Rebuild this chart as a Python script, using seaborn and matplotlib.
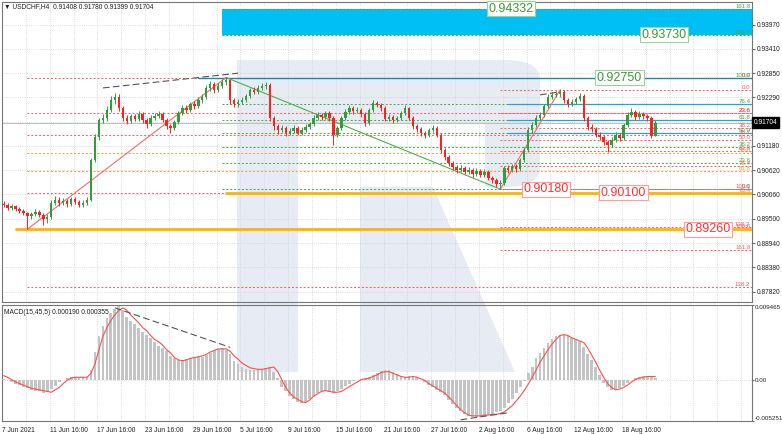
import matplotlib
matplotlib.use("Agg")
import matplotlib.pyplot as plt
import matplotlib.patches as mpatches
import matplotlib.transforms as mtransforms
import numpy as np
import pandas as pd
import seaborn as sns

# ---------------- data ----------------
symbol_info = "USDCHF,H4  0.91408 0.91780 0.91399 0.91704"
macd_info = "MACD(15,45,5) 0.000190 0.000355"
last_price = 0.91704

# 8-hour candles, 7 Jun - 20 Aug 2021
first_open = 0.8985
closes = [
    0.8982, 0.8975, 0.8979, 0.8972, 0.8968, 0.8963, 0.8956, 0.8961, 0.8966, 0.8959,
    0.8949, 0.8954, 0.8986, 0.8993, 0.8986, 0.8991, 0.8984, 0.8995, 0.8989, 0.8982,
    0.8986, 0.8993, 0.9085, 0.9138, 0.9177, 0.9182, 0.9200, 0.9223, 0.9230, 0.9205,
    0.9182, 0.9175, 0.9186, 0.9180, 0.9191, 0.9177, 0.9168, 0.9182, 0.9186, 0.9191,
    0.9177, 0.9163, 0.9159, 0.9173, 0.9193, 0.9205, 0.9200, 0.9214, 0.9209, 0.9223,
    0.9230, 0.9251, 0.9260, 0.9246, 0.9255, 0.9265, 0.9269, 0.9223, 0.9214, 0.9219,
    0.9223, 0.9232, 0.9246, 0.9242, 0.9251, 0.9255, 0.9258, 0.9182, 0.9163, 0.9154,
    0.9159, 0.9147, 0.9152, 0.9159, 0.9147, 0.9154, 0.9161, 0.9168, 0.9182, 0.9189,
    0.9184, 0.9193, 0.9182, 0.9143, 0.9159, 0.9182, 0.9196, 0.9205, 0.9198, 0.9200,
    0.9191, 0.9170, 0.9200, 0.9216, 0.9212, 0.9205, 0.9180, 0.9184, 0.9177, 0.9182,
    0.9193, 0.9205, 0.9182, 0.9163, 0.9157, 0.9147, 0.9143, 0.9154, 0.9159, 0.9143,
    0.9108, 0.9092, 0.9078, 0.9069, 0.9062, 0.9067, 0.9058, 0.9062, 0.9053, 0.9060,
    0.9051, 0.9058, 0.9044, 0.9039, 0.9030, 0.9032, 0.9067, 0.9062, 0.9071, 0.9064,
    0.9085, 0.9108, 0.9154, 0.9166, 0.9182, 0.9189, 0.9209, 0.9230, 0.9235, 0.9237,
    0.9242, 0.9223, 0.9214, 0.9219, 0.9226, 0.9232, 0.9182, 0.9161, 0.9157, 0.9143,
    0.9138, 0.9126, 0.9120, 0.9131, 0.9143, 0.9136, 0.9166, 0.9189, 0.9196, 0.9184,
    0.9191, 0.9186, 0.9182, 0.9141, 0.9170,
]
highs = [
    0.8990, 0.8986, 0.8984, 0.8982, 0.8976, 0.8972, 0.8966, 0.8966, 0.8972, 0.8969,
    0.8962, 0.8960, 0.8992, 0.9003, 0.8999, 0.8998, 0.8996, 0.9000, 0.8999, 0.8993,
    0.8992, 0.9000, 0.9090, 0.9145, 0.9182, 0.9190, 0.9210, 0.9232, 0.9240, 0.9236,
    0.9210, 0.9188, 0.9192, 0.9192, 0.9197, 0.9195, 0.9182, 0.9188, 0.9193, 0.9198,
    0.9195, 0.9181, 0.9168, 0.9178, 0.9198, 0.9211, 0.9212, 0.9219, 0.9220, 0.9229,
    0.9236, 0.9257, 0.9266, 0.9264, 0.9262, 0.9271, 0.9276, 0.9272, 0.9228, 0.9225,
    0.9229, 0.9238, 0.9252, 0.9253, 0.9257, 0.9262, 0.9265, 0.9262, 0.9187, 0.9168,
    0.9166, 0.9163, 0.9158, 0.9165, 0.9163, 0.9160, 0.9168, 0.9173, 0.9188, 0.9195,
    0.9194, 0.9199, 0.9197, 0.9186, 0.9164, 0.9187, 0.9202, 0.9212, 0.9210, 0.9207,
    0.9204, 0.9195, 0.9205, 0.9224, 0.9222, 0.9217, 0.9209, 0.9190, 0.9188, 0.9187,
    0.9198, 0.9211, 0.9208, 0.9186, 0.9168, 0.9161, 0.9152, 0.9159, 0.9165, 0.9163,
    0.9147, 0.9112, 0.9097, 0.9082, 0.9074, 0.9073, 0.9071, 0.9068, 0.9066, 0.9066,
    0.9064, 0.9064, 0.9062, 0.9049, 0.9043, 0.9040, 0.9072, 0.9073, 0.9077, 0.9076,
    0.9090, 0.9114, 0.9160, 0.9172, 0.9188, 0.9196, 0.9215, 0.9236, 0.9242, 0.9244,
    0.9249, 0.9246, 0.9228, 0.9225, 0.9231, 0.9240, 0.9236, 0.9187, 0.9167, 0.9161,
    0.9149, 0.9142, 0.9131, 0.9137, 0.9149, 0.9148, 0.9171, 0.9195, 0.9204, 0.9200,
    0.9197, 0.9196, 0.9192, 0.9186, 0.9178,
]
lows = [
    0.8976, 0.8970, 0.8971, 0.8967, 0.8963, 0.8958, 0.8926, 0.8950, 0.8957, 0.8953,
    0.8935, 0.8940, 0.8950, 0.8981, 0.8980, 0.8982, 0.8978, 0.8980, 0.8983, 0.8976,
    0.8977, 0.8982, 0.8990, 0.9080, 0.9132, 0.9170, 0.9176, 0.9195, 0.9215, 0.9198,
    0.9176, 0.9168, 0.9170, 0.9174, 0.9175, 0.9171, 0.9158, 0.9163, 0.9177, 0.9181,
    0.9172, 0.9156, 0.9147, 0.9154, 0.9168, 0.9188, 0.9194, 0.9195, 0.9203, 0.9204,
    0.9217, 0.9225, 0.9245, 0.9240, 0.9241, 0.9250, 0.9258, 0.9215, 0.9207, 0.9208,
    0.9213, 0.9218, 0.9227, 0.9236, 0.9237, 0.9246, 0.9249, 0.9176, 0.9155, 0.9146,
    0.9149, 0.9141, 0.9142, 0.9147, 0.9142, 0.9143, 0.9149, 0.9156, 0.9164, 0.9177,
    0.9178, 0.9179, 0.9176, 0.9120, 0.9138, 0.9154, 0.9177, 0.9190, 0.9192, 0.9193,
    0.9185, 0.9163, 0.9166, 0.9195, 0.9206, 0.9199, 0.9174, 0.9175, 0.9171, 0.9172,
    0.9178, 0.9189, 0.9177, 0.9157, 0.9150, 0.9140, 0.9136, 0.9139, 0.9149, 0.9137,
    0.9101, 0.9086, 0.9072, 0.9063, 0.9056, 0.9057, 0.9052, 0.9053, 0.9047, 0.9049,
    0.9045, 0.9047, 0.9038, 0.9033, 0.9024, 0.9018, 0.9028, 0.9056, 0.9057, 0.9058,
    0.9060, 0.9080, 0.9103, 0.9148, 0.9161, 0.9177, 0.9184, 0.9204, 0.9225, 0.9229,
    0.9231, 0.9217, 0.9208, 0.9209, 0.9214, 0.9221, 0.9176, 0.9155, 0.9150, 0.9137,
    0.9131, 0.9119, 0.9104, 0.9115, 0.9126, 0.9130, 0.9131, 0.9160, 0.9183, 0.9178,
    0.9179, 0.9180, 0.9176, 0.9136, 0.9140,
]

# MACD main and signal, in units of 1e-4
macd_main = [
    1, -1, -3, -5, -7, -9, -11, -13, -14, -15,
    -17, -16, -12, -8, -3, 0, 2, 3, 3, 3,
    3, 3, 12, 35, 55, 68, 78, 85, 89, 93,
    88, 80, 74, 70, 65, 61, 57, 53, 48, 43,
    40, 36, 30, 27, 25, 25, 26, 28, 28, 29,
    29, 31, 34, 37, 39, 40, 38, 32, 24, 20,
    16, 14, 12, 12, 13, 14, 15, 16, 10, 2,
    -10, -15, -21, -25, -28, -30, -28, -25, -21, -17,
    -14, -15, -16, -17, -14, -12, -8, -5, -2, 0,
    1, 2, 3, 6, 9, 11, 12, 12, 10, 7,
    4, 3, 4, 4, 2, 0, -3, -7, -10, -13,
    -16, -20, -26, -31, -36, -40, -43, -46, -47, -47,
    -47, -46, -45, -43, -41, -40, -36, -30, -24, -17,
    -10, -2, 8, 16, 27, 34, 40, 46, 51, 55,
    57, 57, 55, 53, 51, 49, 42, 33, 25, 16,
    6, -4, -10, -13, -12, -11, -8, -4, -1, 2,
    3, 4, 4, 3, 2,
]
macd_signal = [
    5, 3, 0, -3, -5, -7, -9, -11, -12, -13,
    -14, -15, -16, -13, -10, -5, -1, 2, 3, 3,
    3, 3, 8, 20, 38, 55, 66, 75, 82, 88,
    91, 88, 82, 77, 72, 66, 62, 56, 51, 48,
    44, 38, 34, 28, 25, 24, 25, 27, 28, 29,
    30, 32, 35, 37, 39, 39, 39, 36, 30, 26,
    21, 18, 15, 14, 13, 13, 14, 15, 16, 10,
    0, -10, -17, -22, -25, -28, -29, -26, -21, -18,
    -15, -14, -15, -16, -16, -15, -12, -9, -6, -3,
    0, 1, 2, 4, 6, 9, 10, 10, 8, 6,
    4, 3, 3, 4, 3, 1, -1, -5, -8, -11,
    -14, -17, -22, -27, -33, -38, -42, -45, -46, -46,
    -46, -45, -45, -44, -44, -43, -41, -37, -33, -27,
    -21, -14, -6, 3, 12, 22, 30, 38, 45, 51,
    56, 57, 56, 53, 51, 49, 47, 40, 31, 22,
    12, 3, -5, -10, -13, -12, -10, -7, -3, 0,
    2, 3, 4, 4, 4,
]

date_labels = [
    "7 Jun 2021", "11 Jun 16:00", "17 Jun 16:00", "23 Jun 16:00", "29 Jun 16:00",
    "5 Jul 16:00", "9 Jul 16:00", "15 Jul 16:00", "21 Jul 16:00", "27 Jul 16:00",
    "2 Aug 16:00", "6 Aug 16:00", "12 Aug 16:00", "18 Aug 16:00",
]
price_ticks = [0.93970, 0.93410, 0.92850, 0.92290, 0.91735, 0.91180,
               0.90620, 0.90060, 0.89500, 0.88940, 0.88380, 0.87820]
macd_ticks = [-0.005251, 0.0, 0.009465]
macd_tick_labels = ["-0.005251", "0.00", "0.009465"]

fib_levels = [0.0, 23.6, 38.2, 50.0, 61.8, 76.4, 100.0, 138.2, 161.8]
rally_low, rally_high = 0.8926, 0.9275     # June low -> 1 Jul high
drop_high, drop_low = 0.9275, 0.9018       # 1 Jul high -> 3 Aug low
bounce_high = 0.9246                       # 11 Aug high
resistance_main = 0.9275
resistance_right = [0.9214, 0.9177, 0.9147]
support_levels = [0.9010, 0.8926]
target_marks = ["0.94332", "0.93730", "0.92750", "0.90180", "0.90100", "0.89260"]

price_div_bars, price_div_vals = [25, 59], [0.9251, 0.9285]
price_div2_bars, price_div2_vals = [135, 140], [0.9235, 0.9242]
macd_div_bars, macd_div_vals = [28, 57], [0.0091, 0.0041]
macd_div2_bars, macd_div2_vals = [115, 127], [-0.0051, -0.0042]

# ---------------- style ----------------
W, H = 782, 434
BULL, BEAR = "#2e9e3e", "#ff2020"
RED_FIB, GREEN_FIB, ORANGE_FIB = "#ff5a5a", "#3fae3f", "#f39a3a"
TICK_FS = 4.8
sns.set_style("white")
plt.rcParams["font.family"] = ["Liberation Sans", "DejaVu Sans"]

fig = plt.figure(figsize=(W / 100, H / 100), dpi=100, facecolor="white")
ax = fig.add_axes([2 / W, 1 - 302 / H, 750 / W, 300 / H])
ax2 = fig.add_axes([2 / W, 1 - 421 / H, 750 / W, 116 / H])
for a in (ax, ax2):
    a.set_facecolor("none")
    for s in a.spines.values():
        s.set_color("#767676")
        s.set_linewidth(0.8)

x0 = -0.4
xmax = x0 + 750 / 3.974
ylo, yhi = 0.87583, 0.94488

# watermark "R" behind both panels (figure pixels)
def fxy(x, y):
    return (x / W, 1 - y / H)

wm = "#e7ecf4"
for p in [
    mpatches.Rectangle(fxy(237, 372), 61 / W, 312 / H),
    mpatches.FancyBboxPatch(fxy(237, 187), 303 / W, 127 / H,
                            boxstyle="round,pad=0,rounding_size=0.045"),
    mpatches.Polygon([fxy(360, 187), fxy(433, 187), fxy(515, 372), fxy(360, 372)]),
]:
    p.set(transform=fig.transFigure, facecolor=wm, edgecolor="none", zorder=-3)
    fig.add_artist(p)
hole = mpatches.Rectangle(fxy(298, 187), 187 / W, 64 / H, transform=fig.transFigure,
                          facecolor="white", edgecolor="none", zorder=-2)
fig.add_artist(hole)

# ---------------- candles ----------------
df = pd.DataFrame({"close": closes, "high": highs, "low": lows})
df["open"] = [first_open] + closes[:-1]
df["bar"] = np.arange(len(df))
colors = np.where(df["close"] >= df["open"], BULL, BEAR)
ax.vlines(df["bar"], df["low"], df["high"], colors=colors, lw=0.7, zorder=5)
ax.bar(df["bar"], (df["close"] - df["open"]).abs().clip(lower=0.00004),
       bottom=df[["open", "close"]].min(axis=1), width=0.6, color=colors, lw=0, zorder=6)

# swing anchors found from the data
b_rally_low = int(np.argmin(lows[:30]))
b_top = int(np.argmax(highs[:80]))
b_drop_low = 100 + int(np.argmin(lows[100:140]))
b_bounce = 125 + int(np.argmax(highs[125:150]))

# ---------------- fibonacci grids ----------------
def draw_fib(p0, p100, start, color, special=None):
    for lv in fib_levels:
        price = p0 + (p100 - p0) * lv / 100
        if not (ylo < price < yhi):
            continue
        c = (special or {}).get(lv, color)
        ax.plot([start, xmax], [price, price], color=c, lw=0.7, ls=(0, (2, 2)), zorder=3)
        ax.text(xmax - 0.4, price, f"{lv:.1f}", color=c, fontsize=4.4,
                ha="right", va="bottom", zorder=7)

cyan_lo = drop_low + (drop_high - drop_low) * 1.382
cyan_hi = drop_low + (drop_high - drop_low) * 1.618
ax.fill_between([b_top - 1, xmax], cyan_lo, cyan_hi, color="#00bff5", lw=0, zorder=1)

draw_fib(rally_high, rally_low, b_rally_low, RED_FIB, {50.0: ORANGE_FIB, 61.8: ORANGE_FIB})
draw_fib(drop_low, drop_high, b_top - 1, GREEN_FIB)
draw_fib(bounce_high, drop_low, b_drop_low, RED_FIB)

# horizontal levels
ax.plot([b_top - 7, xmax], [resistance_main] * 2, color="#1f86a8", lw=1.0, zorder=3)
for lv in resistance_right:
    ax.plot([b_drop_low + 2, xmax], [lv] * 2, color="#1ea6d6", lw=0.9, zorder=3)
ax.plot([b_top, xmax], [support_levels[0]] * 2, color="#ffb300", lw=2.0, zorder=3.5)
ax.plot([b_rally_low - 3, xmax], [support_levels[1]] * 2, color="#ffb300", lw=2.0, zorder=3.5)
ax.axhline(last_price, color="#bdbdbd", lw=0.7, zorder=2)

# swing lines
sns.lineplot(x=[b_rally_low, b_top], y=[rally_low, rally_high], ax=ax, color="#ff6666", lw=0.8, zorder=4)
sns.lineplot(x=[b_top, b_drop_low], y=[drop_high, drop_low], ax=ax, color="#4caf50", lw=0.8, zorder=4)
sns.lineplot(x=[b_drop_low, b_bounce], y=[drop_low, bounce_high], ax=ax, color="#ff6666", lw=0.8, zorder=4)
ax.plot(price_div_bars, price_div_vals, color="#555555", lw=0.8, ls=(0, (6, 3)), zorder=4)
ax.plot(price_div2_bars, price_div2_vals, color="#555555", lw=0.8, ls=(0, (6, 3)), zorder=4)

# boxed target prices
green_box = dict(boxstyle="square,pad=0.12", fc="white", ec="#9ad29a", lw=0.8)
red_box = dict(boxstyle="square,pad=0.12", fc="white", ec="#ff9c9c", lw=0.8)
mark_pos = [127.6, 166.1, 155.0, 136.4, 156.0, 177.2]
for txt, xb in zip(target_marks, mark_pos):
    val = float(txt)
    green = val > 0.92
    ax.text(xb, val, txt, fontsize=9, ha="center", va="center",
            color="#3b9a3b" if green else "#ff3030",
            bbox=green_box if green else red_box, zorder=8)

# axes, ticks, grid
ax.set_xlim(x0, xmax)
ax.set_ylim(ylo, yhi)
ax2.set_xlim(x0, xmax)
ax2.set_ylim(macd_ticks[0], macd_ticks[-1])
major = [12 * k + x0 for k in range(len(date_labels))]
minor = [6 * k + x0 for k in range(2 * len(date_labels) + 4)]
for a in (ax, ax2):
    a.set_xticks(major)
    a.set_xticks(minor, minor=True)
    a.grid(True, which="both", axis="x", ls=":", color="#cfcfcf", lw=0.6)
    a.yaxis.tick_right()
ax.grid(True, axis="y", ls=":", color="#cfcfcf", lw=0.6)
ax.set_yticks(price_ticks)
ax.set_yticklabels(["" if abs(v - 0.91735) < 1e-6 else f"{v:.5f}" for v in price_ticks])
ax.tick_params(axis="x", which="both", labelbottom=False, length=0)
ax.tick_params(axis="y", length=2, pad=1.2, labelsize=TICK_FS, colors="#6a6a6a", labelcolor="#222222")

ax2.set_yticks(macd_ticks)
ax2.set_yticklabels(macd_tick_labels)
ax2.grid(True, axis="y", ls=":", color="#cfcfcf", lw=0.6)
ax2.tick_params(axis="y", length=1.5, pad=0.8, labelsize=4.5, colors="#6a6a6a", labelcolor="#222222")
ax2.set_xticklabels(date_labels)
ax2.tick_params(axis="x", which="major", length=3, pad=1.5, labelsize=TICK_FS,
                colors="#6a6a6a", labelcolor="#222222")
ax2.tick_params(axis="x", which="minor", length=0)
for lbl in ax2.get_xticklabels():
    lbl.set_ha("left")
ax2.get_yticklabels()[0].set_va("bottom")
ax2.get_yticklabels()[-1].set_va("top")

# MACD panel
hist = np.array(macd_main) * 1e-4
sig = np.array(macd_signal) * 1e-4
ax2.bar(df["bar"], hist, width=0.7, color="#c4c4c4", lw=0, zorder=3)
sns.lineplot(x=df["bar"], y=sig, ax=ax2, color="#ff4d4d", lw=0.8, zorder=4)
ax2.plot(macd_div_bars, macd_div_vals, color="#555555", lw=0.8, ls=(0, (6, 3)), zorder=4)
ax2.plot(macd_div2_bars, macd_div2_vals, color="#555555", lw=0.8, ls=(0, (6, 3)), zorder=4)
for a in (ax, ax2):
    a.set_xlabel("")
    a.set_ylabel("")

# current price tag on the axis
blend = mtransforms.blended_transform_factory(ax.transAxes, ax.transData)
ax.text(1.002, last_price, f"{last_price:.5f}", transform=blend, fontsize=TICK_FS, color="white",
        ha="left", va="center", clip_on=False, zorder=10,
        bbox=dict(boxstyle="square,pad=0.3", fc="black", ec="black"))

fig.text(4 / W, 1 - 7 / H, "\u25bc " + symbol_info, fontsize=4.8, va="center", color="#222222")
fig.text(4 / W, 1 - 312 / H, macd_info, fontsize=4.8, va="center", color="#222222")

fig.savefig("out.png", dpi=100)
